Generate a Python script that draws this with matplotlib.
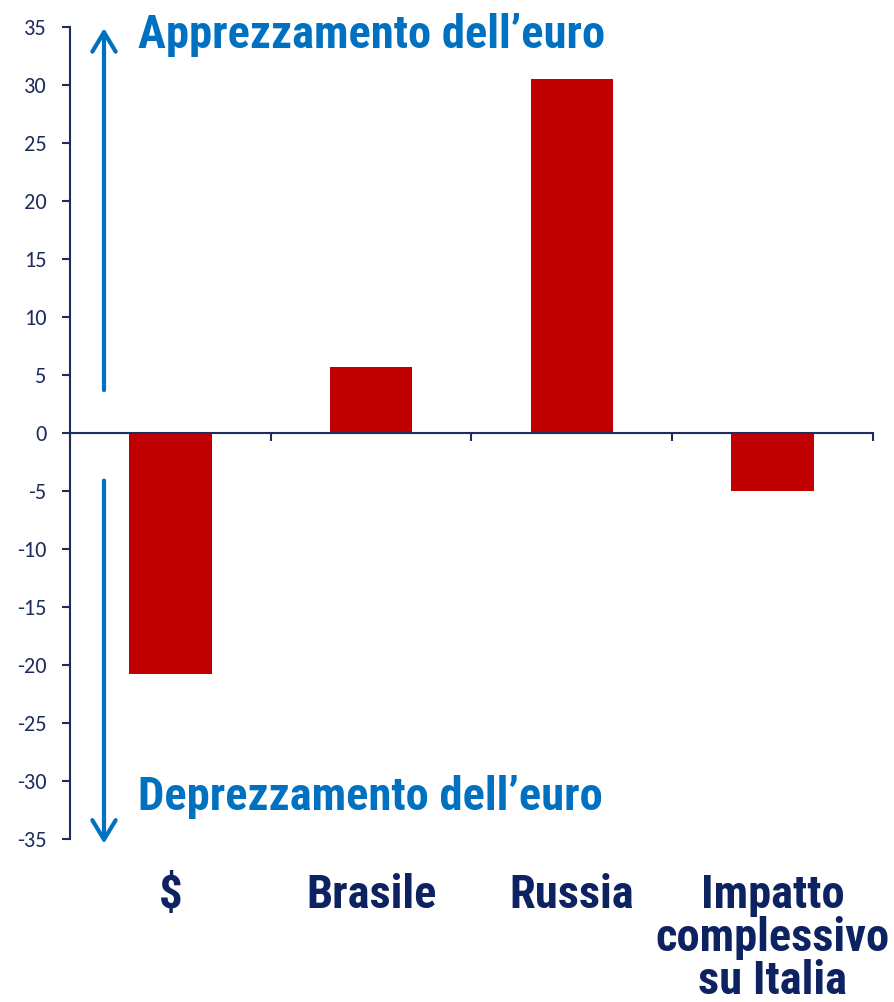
import matplotlib
matplotlib.use("Agg")
import matplotlib.pyplot as plt
import matplotlib.transforms as mtransforms
from matplotlib import font_manager

categories = ["$", "Brasile", "Russia", "Impatto\ncomplessivo\nsu Italia"]
values = [-20.8, 5.7, 30.5, -5.0]
yticks = list(range(-35, 40, 5))

navy = "#1F2D5C"
label_navy = "#0D2260"
blue = "#0070C0"
red = "#C00000"
tickfont = ["Carlito", "Open Sans", "DejaVu Sans"]

# pick a condensed bold font if one is installed
cond = None
for f in font_manager.fontManager.ttflist:
    n = f.name.lower()
    if ("narrow" in n or "condensed" in n) and "mono" not in n and "serif" not in n:
        cond = f.name
        if "liberation" in n or "arial" in n:
            break
narrow = [cond, "Liberation Sans", "DejaVu Sans"] if cond else ["Liberation Sans", "DejaVu Sans"]

fig = plt.figure(figsize=(8.95, 10.02), dpi=100)
ax = fig.add_axes([70/895, 1-839/1002, (873-70)/895, (839-27)/1002])

x = list(range(len(categories)))
ax.bar(x, values, width=0.41, color=red, zorder=2)

ax.set_xlim(-0.5, len(categories)-0.5)
ax.set_ylim(-35, 35)
ax.set_yticks(yticks)
ax.set_yticklabels([str(v) for v in yticks], family=tickfont, fontsize=16, color=navy)
ax.set_xticks([i-0.5 for i in range(len(categories)+1)])
ax.set_xticklabels([])

for s in ["top", "right"]:
    ax.spines[s].set_visible(False)
ax.spines["bottom"].set_position(("data", 0))
ax.spines["left"].set_color(navy)
ax.spines["bottom"].set_color(navy)
ax.spines["left"].set_linewidth(1.5)
ax.spines["bottom"].set_linewidth(1.5)
ax.spines["bottom"].set_zorder(3)
ax.tick_params(axis="y", direction="out", length=6, width=1.5, color=navy, pad=11)
ax.tick_params(axis="x", direction="out", length=6, width=1.5, color=navy)

arrow_x = -0.5 + (104-70)/200.75
ap = dict(arrowstyle="->,head_length=0.7,head_width=0.42", color=blue, lw=3.0,
          mutation_scale=20, shrinkA=0, shrinkB=0)
ax.annotate("", xy=(arrow_x, 34.9), xytext=(arrow_x, 3.7), arrowprops=ap,
            annotation_clip=False)
ax.annotate("", xy=(arrow_x, -35.4), xytext=(arrow_x, -4.1), arrowprops=ap,
            annotation_clip=False)

text_x = -0.5 + (138-70)/200.75
fs = 31
t1 = ax.text(text_x, 34.3, "Apprezzamento dell\u2019euro", ha="left", va="center",
             family=narrow, fontweight="bold", fontsize=fs, color=blue)
t2 = ax.text(text_x, -31.4, "Deprezzamento dell\u2019euro", ha="left", va="center",
             family=narrow, fontweight="bold", fontsize=fs, color=blue)

# scale font so the title width matches the reference (~467 px)
renderer = fig.canvas.get_renderer()
w = t1.get_window_extent(renderer).width
fs2 = fs * 467.0 / w
t1.set_fontsize(fs2)
t2.set_fontsize(fs2)

trans = mtransforms.blended_transform_factory(ax.transData, fig.transFigure)
labs = []
for xi, lab in zip(x, categories):
    t = ax.text(xi, 1-873/1002, lab, transform=trans, ha="center", va="top",
                family=narrow, fontweight="bold", fontsize=fs2, color=label_navy,
                linespacing=1.0, multialignment="center")
    labs.append(t)
# last label: centred block, kept within the right edge
last = labs[-1]
wl = last.get_window_extent(renderer).width
fs3 = fs2
if wl > 234:
    fs3 = fs2 * 234.0 / wl
    last.set_fontsize(fs3)
# line step ~44 px
last.set_linespacing(44.0 / (fs3 * 100 / 72.0 * 0.97))

fig.savefig("out.png", dpi=100)
